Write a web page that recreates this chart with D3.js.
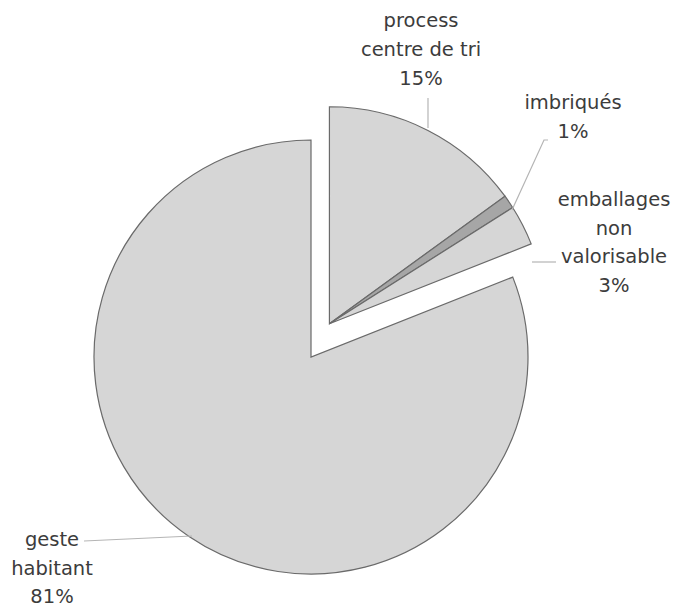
<!DOCTYPE html>
<html>
<head>
<meta charset="utf-8">
<script src="https://cdnjs.cloudflare.com/ajax/libs/d3/7.8.5/d3.min.js"></script>
<style>
  body { margin: 0; background: #fff; }
  text { font-family: "DejaVu Sans", sans-serif; font-size: 19.5px; fill: #3c3c3c; }
</style>
</head>
<body>
<script>
// data
var categories = ["process centre de tri", "imbriqués", "emballages non valorisable", "geste habitant"];
var values = [15, 1, 3, 81];
var labelLines = [
  ["process", "centre de tri", "15%"],
  ["imbriqués", "1%"],
  ["emballages", "non", "valorisable", "3%"],
  ["geste", "habitant", "81%"]
];

var W = 675, H = 608;
var cx = 311, cy = 357, R = 217;

// explosion of each slice: distance and direction (deg, clockwise from top)
var explodeDist = [38, 38, 38, 0];
var explodeDir = [29, 29, 29, 0];

var svg = d3.select("body").append("svg")
    .attr("width", W).attr("height", H);

var pie = d3.pie().sort(null).value(function(d) { return d; });
var arc = d3.arc().innerRadius(0).outerRadius(R);
var arcs = pie(values);

var fills = ["#d6d6d6", "#a6a6a6", "#d6d6d6", "#d6d6d6"];

var g = svg.append("g").attr("transform", "translate(" + cx + "," + cy + ")");

g.selectAll("path.slice")
  .data(arcs)
  .enter().append("path")
    .attr("class", "slice")
    .attr("d", arc)
    .attr("fill", function(d, i) { return fills[i]; })
    .attr("stroke", "#6a6a6a")
    .attr("stroke-width", 1.2)
    .attr("transform", function(d, i) {
      var a = explodeDir[i] * Math.PI / 180;
      return "translate(" + (explodeDist[i] * Math.sin(a)) + "," + (-explodeDist[i] * Math.cos(a)) + ")";
    });

// label boxes (centre x, first baseline y, line height)
var labelPos = [
  {x: 421, y: 27, lh: 29},
  {x: 573, y: 109, lh: 29},
  {x: 614, y: 206, lh: 28.5},
  {x: 52, y: 546, lh: 28.5}
];

labelLines.forEach(function(lines, i) {
  var t = svg.append("text")
      .attr("text-anchor", "middle")
      .attr("x", labelPos[i].x)
      .attr("y", labelPos[i].y);
  lines.forEach(function(s, j) {
    t.append("tspan")
      .attr("x", labelPos[i].x)
      .attr("dy", j === 0 ? 0 : labelPos[i].lh)
      .text(s);
  });
});

// leader lines
var leaders = [
  [[428, 98], [428, 128]],
  [[548, 140], [544, 140], [512, 210]],
  [[556, 262], [532, 262]],
  [[84, 541], [192, 536]]
];
var line = d3.line();
svg.selectAll("path.leader")
  .data(leaders)
  .enter().append("path")
    .attr("class", "leader")
    .attr("d", line)
    .attr("fill", "none")
    .attr("stroke", "#b5b5b5")
    .attr("stroke-width", 1.2);
</script>
</body>
</html>
